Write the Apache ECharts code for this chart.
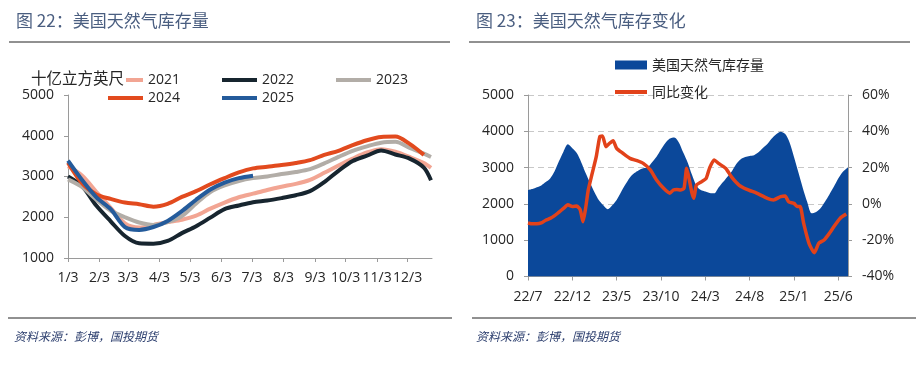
<!DOCTYPE html>
<html><head><meta charset="utf-8">
<script src="https://cdn.jsdelivr.net/npm/echarts@6/dist/echarts.min.js"></script>
<style>html,body{margin:0;padding:0;background:#fff}#c{width:921px;height:370px}</style>
</head><body><div id="c"></div>
<script>
// ---------- Left chart data (figure 22) ----------
const weekDays = [0,14,28,42,56,70,84,98,112,126,140,154,168,182,196,210,224,238,252,266,280,294,308,322,336,350,357];
const monthTickDays = [0,31,59,90,120,151,181,212,243,273,304,334];
const monthTickLabels = ['1/3','2/3','3/3','4/3','5/3','6/3','7/3','8/3','9/3','10/3','11/3','12/3'];
const yearNames = ['2021','2022','2023','2024','2025'];
const s2021 = [3250,3020,2620,2230,1850,1750,1810,1880,1940,2040,2210,2360,2490,2580,2670,2750,2820,2920,3090,3270,3440,3590,3670,3610,3480,3330,3210];
const s2022 = [3000,2760,2280,1900,1540,1360,1350,1420,1610,1780,1990,2200,2290,2370,2410,2470,2540,2640,2860,3140,3380,3510,3640,3540,3440,3220,2910];
const s2023 = [2930,2740,2430,2160,2000,1870,1810,1880,2030,2340,2620,2780,2890,2960,3000,3060,3110,3180,3320,3480,3630,3740,3830,3850,3700,3560,3480];
const s2024 = [3340,2830,2560,2450,2360,2320,2260,2330,2500,2640,2810,2960,3100,3200,3240,3280,3330,3400,3530,3630,3770,3890,3970,3980,3800,3530];
const s2025 = [3390,2910,2490,2200,1760,1690,1760,1910,2150,2430,2680,2850,2960,3020];
const yearColors = ['#F2A593','#17252F','#B2ADA7','#E24A1E','#245B9B'];

// ---------- Right chart data (figure 23) ----------
const monthTickIdx = [0,5,10,15,20,25,30,35];
const monthTickNames = ['22/7','22/12','23/5','23/10','24/3','24/8','25/1','25/6'];
const storageMonth = [0,0.5,1,1.5,2,2.5,3,3.5,4,4.5,5,5.5,6,6.5,7,7.5,8,8.5,9,9.5,10,10.5,11,11.5,12,12.5,13,13.5,14,14.5,15,15.5,16,16.5,17,17.5,18,18.5,19,19.5,20,20.5,21,21.5,22,22.5,23,23.5,24,24.5,25,25.5,26,26.5,27,27.5,28,28.5,29,29.5,30,30.5,31,31.5,32,32.5,33,33.5,34,34.5,35,35.5,36,36.1];
const storageValue = [2380,2410,2460,2510,2600,2700,2900,3180,3440,3640,3530,3400,3150,2850,2580,2320,2100,1960,1850,1960,2110,2330,2540,2730,2850,2930,2980,3010,3150,3300,3500,3680,3800,3830,3700,3420,3150,2800,2500,2380,2340,2300,2290,2450,2600,2750,2900,3100,3230,3290,3320,3340,3420,3540,3650,3800,3920,3990,3930,3700,3300,2870,2440,2050,1740,1780,1880,2060,2260,2470,2700,2880,2990,3000];
const yoyMonth = [0,0.5,1,1.5,2,2.5,3,3.5,4,4.5,5,5.5,5.9,6.2,6.5,6.8,7.2,7.7,8.1,8.4,8.8,9.2,9.6,10,10.7,11.5,12.3,13,13.8,14.5,15.3,16,16.4,16.8,17.2,17.6,17.9,18.2,18.5,18.7,19,19.6,20.1,20.5,21,21.5,22.3,23,23.8,24.7,25.8,27,27.7,28.5,29,29.4,30,30.4,30.7,31.1,31.7,32.3,32.8,33.4,34,34.5,35.2,35.9];
const yoyValue = [-10.5,-11,-11,-10.5,-9,-8,-6.5,-4.5,-2.5,-0.5,-1.5,-1.2,-3.4,-9.8,-2.4,7.7,16,26,37,37.4,31.5,33.4,34.8,30.6,27.9,25.1,23.8,22.3,18.7,13.2,8.6,5.9,7.7,8,7.7,8.6,19.6,13.2,5.9,3.1,10.4,12.3,14.1,20,24.2,22.3,19.6,14.6,10.4,8,5.9,3.1,2.2,4,4.4,1.2,0.3,-1.5,-1.5,-10.7,-21.7,-26.9,-21.7,-19.9,-16.2,-12.6,-8,-5.6];
const rightNames = ['美国天然气库存量','同比变化'];

const FONT = '"Open Sans","Noto Sans CJK SC",sans-serif';
const CJK = '"Noto Sans CJK SC",sans-serif';
const txt = '#262626';
const axisGray = '#9a9a9a';

const chart = echarts.init(document.getElementById('c'), null, {renderer:'canvas'});
const yearSeries = [s2021,s2022,s2023,s2024,s2025];

const series = yearSeries.map((arr,i)=>({
  name: yearNames[i], type:'line', xAxisIndex:0, yAxisIndex:0,
  data: arr.map((v,j)=>[weekDays[j], v]),
  showSymbol:false, symbol:'none', smooth:0.3,
  lineStyle:{width:4, color:yearColors[i]}, itemStyle:{color:yearColors[i]}
}));
series.push({
  name: rightNames[0], type:'line', xAxisIndex:1, yAxisIndex:1,
  data: storageValue.map((v,j)=>[storageMonth[j], v]),
  showSymbol:false, symbol:'none', smooth:0.3,
  lineStyle:{width:0, color:'#0B489A'}, itemStyle:{color:'#0B489A'},
  areaStyle:{color:'#0B489A', opacity:1}
});
series.push({
  name: rightNames[1], type:'line', xAxisIndex:1, yAxisIndex:2,
  data: yoyValue.map((v,j)=>[yoyMonth[j], v]),
  showSymbol:false, symbol:'none', smooth:0.2,
  lineStyle:{width:3.5, color:'#E2421A'}, itemStyle:{color:'#E2421A'}
});

// legend slots for the left chart (row, column)
const legendSlots = [[0,0],[0,1],[0,2],[1,0],[1,1]];
const legends = yearNames.map((n,i)=>({
  data:[{name:n, icon:'rect'}], left:108 + legendSlots[i][1]*114, top:73 + legendSlots[i][0]*18,
  padding:0, itemWidth:35, itemHeight:4, itemGap:0,
  textStyle:{fontFamily:FONT, fontSize:14, color:txt}
}));
legends.push({data:[{name:rightNames[0], icon:'rect'}], left:615, top:58, padding:0, itemWidth:32, itemHeight:9,
  textStyle:{fontFamily:CJK, fontSize:14, color:txt}});
legends.push({data:[{name:rightNames[1], icon:'rect'}], left:615, top:85, padding:0, itemWidth:32, itemHeight:4,
  textStyle:{fontFamily:CJK, fontSize:14, color:txt}});

const option = {
  animation:false,
  backgroundColor:'#fff',
  title:[
    {text:'图 22：美国天然气库存量', left:11, top:7, textStyle:{fontFamily:CJK, fontSize:17, fontWeight:'normal', color:'#4A5E80'}},
    {text:'图 23：美国天然气库存变化', left:471, top:7, textStyle:{fontFamily:CJK, fontSize:17, fontWeight:'normal', color:'#4A5E80'}},
    {text:'十亿立方英尺', left:31, top:70, padding:[0,2,0,0], backgroundColor:'#fff', textStyle:{fontFamily:CJK, fontSize:15.5, fontWeight:'normal', color:txt}},
    {text:'资料来源：彭博，国投期货', left:9, top:325, textStyle:{fontFamily:CJK, fontSize:12, fontStyle:'italic', fontWeight:'normal', color:'#2F4170'}},
    {text:'资料来源：彭博，国投期货', left:471, top:325, textStyle:{fontFamily:CJK, fontSize:12, fontStyle:'italic', fontWeight:'normal', color:'#2F4170'}}
  ],
  graphic:[
    {type:'line', shape:{x1:9,y1:42,x2:450,y2:42}, style:{stroke:'#222',lineWidth:1}},
    {type:'line', shape:{x1:469,y1:42,x2:910,y2:42}, style:{stroke:'#222',lineWidth:1}},
    {type:'line', shape:{x1:8,y1:318,x2:452,y2:318}, style:{stroke:'#222',lineWidth:1}},
    {type:'line', shape:{x1:472,y1:318,x2:916,y2:318}, style:{stroke:'#222',lineWidth:1}}
  ],
  legend: legends,
  grid:[
    {left:68, top:95, width:364, height:163},
    {left:528, top:95, width:320, height:181.5}
  ],
  xAxis:[
    {gridIndex:0, type:'value', min:0, max:358,
     axisLine:{lineStyle:{color:axisGray}},
     axisTick:{show:true, length:4, customValues:monthTickDays, lineStyle:{color:axisGray}},
     axisLabel:{customValues:monthTickDays, margin:13, fontFamily:FONT, fontSize:14, color:txt,
       formatter:(v)=>monthTickLabels[monthTickDays.indexOf(v)]},
     splitLine:{show:false}},
    {gridIndex:1, type:'value', min:0, max:36.1,
     axisLine:{lineStyle:{color:axisGray}},
     axisTick:{show:true, length:4, customValues:monthTickIdx, lineStyle:{color:axisGray}},
     axisLabel:{customValues:monthTickIdx, margin:14, fontFamily:FONT, fontSize:14, color:txt,
       formatter:(v)=>monthTickNames[monthTickIdx.indexOf(v)]},
     splitLine:{show:false}}
  ],
  yAxis:[
    {gridIndex:0, type:'value', min:1000, max:5000, interval:1000,
     axisLine:{show:true, lineStyle:{color:axisGray}},
     axisTick:{show:true, length:4, lineStyle:{color:axisGray}},
     axisLabel:{margin:14, fontFamily:FONT, fontSize:14, color:txt, formatter:(v)=>String(v)},
     splitLine:{show:false}},
    {gridIndex:1, type:'value', min:0, max:5000, interval:1000,
     axisLine:{show:true, lineStyle:{color:axisGray}},
     axisTick:{show:true, length:4, lineStyle:{color:axisGray}},
     axisLabel:{margin:14, fontFamily:FONT, fontSize:14, color:txt, formatter:(v)=>String(v)},
     splitLine:{show:true, lineStyle:{color:'#c8c8c8', type:[6,4], width:1}}},
    {gridIndex:1, type:'value', min:-40, max:60, interval:20, position:'right',
     axisLine:{show:true, lineStyle:{color:axisGray}},
     axisTick:{show:true, length:4, lineStyle:{color:axisGray}},
     axisLabel:{margin:14, fontFamily:FONT, fontSize:14, color:txt, formatter:(v)=>v+'%'},
     splitLine:{show:false}}
  ],
  series
};
chart.setOption(option);
</script></body></html>
